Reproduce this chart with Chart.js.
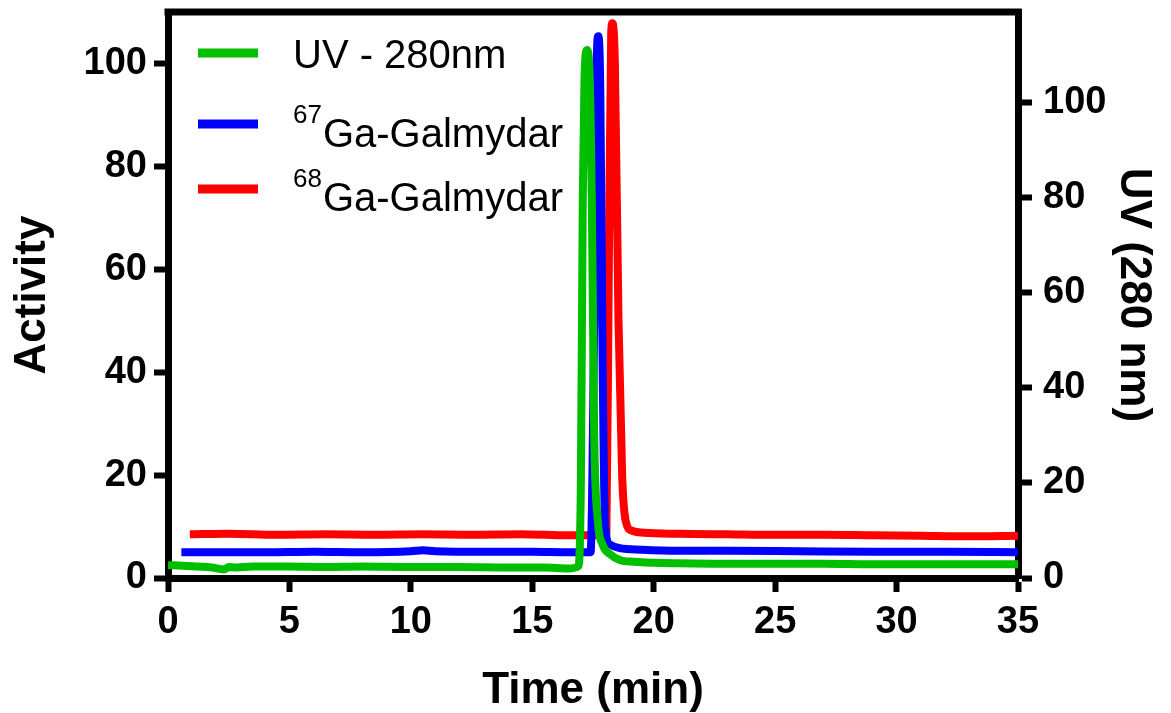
<!DOCTYPE html>
<html lang="en">
<head>
    <meta charset="UTF-8">
    <title>HPLC trace</title>
    <script src="https://cdn.jsdelivr.net/npm/chart.js@4.4.0/dist/chart.umd.min.js"></script>
    <style>
      body { margin: 0; background: #fff; }
      canvas { display: block; }
    </style>
</head>
<body>
    <canvas id="myChart" width="1171" height="713"></canvas>

    <script>
      // values
      const uvTime  = [0, 0.6, 1.2, 1.8, 2.3, 2.5, 2.8, 3.5, 5, 6.5, 8, 10, 12, 14, 15.5, 16.5, 16.9, 17.0, 17.08, 17.15, 17.25, 17.35, 17.45, 17.55, 17.7, 17.9, 18.2, 18.6, 19.2, 20, 21, 23, 25, 27, 29, 31, 33, 35];
      const uvValue = [2.7, 2.6, 2.4, 2.2, 1.8, 2.3, 2.2, 2.4, 2.4, 2.3, 2.4, 2.3, 2.3, 2.2, 2.2, 2.0, 2.5, 20, 80, 105, 111, 107, 80, 30, 12, 7, 5, 3.8, 3.4, 3.2, 3.1, 3.0, 3.0, 3.0, 2.9, 2.9, 2.9, 2.9];

      const ga67Time  = [0.55, 2, 4, 6, 8, 10, 10.5, 11, 13, 15, 16.5, 17.4, 17.55, 17.65, 17.72, 17.8, 17.9, 18.0, 18.2, 18.6, 19.5, 21, 23, 26, 29, 32, 35];
      const ga67Value = [5.0, 5.0, 5.0, 5.1, 5.0, 5.2, 5.4, 5.2, 5.1, 5.1, 5.0, 5.0, 50, 100, 105.3, 95, 40, 10, 6.5, 5.8, 5.5, 5.3, 5.3, 5.2, 5.1, 5.1, 5.0];

      const ga68Time  = [0.9, 2.5, 4.5, 6.5, 8.5, 10.5, 12.5, 14.5, 16.5, 18.05, 18.15, 18.25, 18.3, 18.4, 18.55, 18.7, 18.85, 19.1, 19.6, 21, 23, 25, 27, 29, 31, 33, 35];
      const ga68Value = [8.5, 8.6, 8.4, 8.5, 8.4, 8.5, 8.4, 8.5, 8.3, 8.4, 60, 106, 107.8, 100, 50, 20, 11, 9.2, 8.8, 8.6, 8.5, 8.4, 8.4, 8.3, 8.2, 8.1, 8.2];

      const xTicks = [0, 5, 10, 15, 20, 25, 30, 35];
      const activityTicks = [0, 20, 40, 60, 80, 100];
      const uvTicks = [0, 20, 40, 60, 80, 100];

      const FONT = '"Liberation Sans", Arial, sans-serif';

      function toPoints(xs, ys) {
        return xs.map((x, i) => ({ x: x, y: ys[i] }));
      }

      function fixedTicks(list) {
        return scale => { scale.ticks = list.map(v => ({ value: v })); };
      }

      // frame line along the top of the plot
      const topBorder = {
        id: 'topBorder',
        afterDraw(chart) {
          const { ctx, chartArea: a } = chart;
          ctx.save();
          ctx.strokeStyle = '#000';
          ctx.lineWidth = 7;
          ctx.beginPath();
          ctx.moveTo(a.left - 3.5, a.top);
          ctx.lineTo(a.right + 3.5, a.top);
          ctx.stroke();
          ctx.restore();
        }
      };

      // legend with superscript mass numbers
      const legendEntries = [
        { sup: '',   text: 'UV - 280nm',  color: '#00bf00', y: 53,  base: 68 },
        { sup: '67', text: 'Ga-Galmydar', color: '#0000ff', y: 124, base: 147 },
        { sup: '68', text: 'Ga-Galmydar', color: '#ff0000', y: 189, base: 211 }
      ];
      const insideLegend = {
        id: 'insideLegend',
        afterDraw(chart) {
          const ctx = chart.ctx;
          ctx.save();
          legendEntries.forEach(e => {
            ctx.strokeStyle = e.color;
            ctx.lineWidth = 9;
            ctx.beginPath();
            ctx.moveTo(198, e.y);
            ctx.lineTo(258, e.y);
            ctx.stroke();
            ctx.fillStyle = '#000';
            ctx.textBaseline = 'alphabetic';
            ctx.textAlign = 'left';
            let x = 293;
            if (e.sup) {
              ctx.font = '26px ' + FONT;
              ctx.fillText(e.sup, x, e.base - 24);
              x += ctx.measureText(e.sup).width + 1;
            }
            ctx.font = '40px ' + FONT;
            ctx.fillText(e.text, x, e.base);
          });
          ctx.restore();
        }
      };

      // keep the plot box fixed: no extra room for half tick labels
      function fitTo(size, horizontal) {
        return s => {
          if (horizontal) { s.height = size; } else { s.width = size; }
          s.paddingTop = 0; s.paddingBottom = 0;
          s.paddingLeft = 0; s.paddingRight = 0;
        };
      }

      const axisGrid = { display: true, drawOnChartArea: false, drawTicks: true, tickLength: 14, tickWidth: 6, tickColor: '#000', color: '#000' };
      const axisBorder = { display: true, width: 7, color: '#000' };
      const tickFont = { family: FONT, size: 38, weight: 'bold' };
      const titleFont = { family: FONT, size: 44, weight: 'bold', lineHeight: 1 };

      const ctx = document.getElementById('myChart').getContext('2d');
      const myChart = new Chart(ctx, {
        type: 'line',
        data: {
          datasets: [
            { label: 'UV - 280nm', data: toPoints(uvTime, uvValue), yAxisID: 'y1', borderColor: '#00bf00' },
            { label: '67Ga-Galmydar', data: toPoints(ga67Time, ga67Value), yAxisID: 'y', borderColor: '#0000ff' },
            { label: '68Ga-Galmydar', data: toPoints(ga68Time, ga68Value), yAxisID: 'y', borderColor: '#ff0000' }
          ]
        },
        options: {
          responsive: false,
          animation: false,
          devicePixelRatio: 1,
          layout: { padding: { top: 12, left: 0, right: 0, bottom: 0 } },
          elements: {
            point: { radius: 0 },
            line: { borderWidth: 8, tension: 0.3, cubicInterpolationMode: 'monotone', borderJoinStyle: 'round', borderCapStyle: 'butt', fill: false }
          },
          plugins: {
            legend: { display: false },
            tooltip: { enabled: false }
          },
          scales: {
            x: {
              type: 'linear', min: 0, max: 35,
              afterBuildTicks: fixedTicks(xTicks),
              afterFit: fitTo(135, true),
              grid: axisGrid, border: axisBorder,
              ticks: { font: tickFont, color: '#000', padding: 8, maxRotation: 0 },
              title: { display: true, text: 'Time (min)', font: titleFont, color: '#000', padding: 0 }
            },
            y: {
              position: 'left', min: 0, max: 110,
              afterBuildTicks: fixedTicks(activityTicks),
              afterFit: fitTo(168, false),
              grid: axisGrid, border: axisBorder,
              ticks: { font: tickFont, color: '#000', padding: 7 },
              title: { display: true, text: 'Activity', font: titleFont, color: '#000', padding: { top: 11, bottom: 0 } }
            },
            y1: {
              position: 'right', min: 0, max: 119,
              afterBuildTicks: fixedTicks(uvTicks),
              afterFit: fitTo(153, false),
              grid: axisGrid, border: axisBorder,
              ticks: { font: tickFont, color: '#000', padding: 11 },
              title: { display: true, text: 'UV (280 nm)', font: titleFont, color: '#000', padding: { top: 16, bottom: 0 } }
            }
          }
        },
        plugins: [topBorder, insideLegend]
      });
    </script>
</body>
</html>
